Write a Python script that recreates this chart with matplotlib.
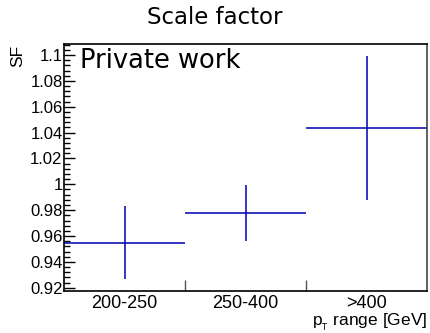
import matplotlib
matplotlib.use('Agg')
import matplotlib.pyplot as plt
from matplotlib.ticker import MultipleLocator

# scale factors per pT bin
bins = ['200-250', '250-400', '>400']
sf = [0.955, 0.9777, 1.0434]
sf_err = [0.028, 0.0214, 0.0559]

blue = '#0000b0'
tickfont = 'Liberation Sans'

fig = plt.figure(figsize=(4.3, 3.33), dpi=100)
ax = fig.add_axes([64/430, 1 - 290.5/333, (427-64)/430, (290.5-44)/333])

centres = [i + 0.5 for i in range(len(bins))]
ax.errorbar(centres, sf, xerr=0.5, yerr=sf_err, fmt='none',
            ecolor=blue, elinewidth=1.1, capsize=0)

ax.set_xlim(0, len(bins))
ax.set_ylim(0.9179, 1.1085)

# x axis: ticks at bin edges, labels at centres
ax.set_xticks(range(1, len(bins)))
ax.set_xticklabels([])
ax.set_xticks(centres, minor=True)
ax.set_xticklabels(bins, minor=True, fontsize=13, family=tickfont)
ax.tick_params(axis='x', which='major', direction='in', length=8, width=1, color='#555555')
ax.tick_params(axis='x', which='minor', length=0, pad=3)

ax.yaxis.set_minor_locator(MultipleLocator(0.004))
ax.set_yticks([0.92, 0.94, 0.96, 0.98, 1.0, 1.02, 1.04, 1.06, 1.08, 1.1])
ax.set_yticklabels(['0.92', '0.94', '0.96', '0.98', '1', '1.02', '1.04', '1.06', '1.08', '1.1'],
                   fontsize=12, family=tickfont)
ax.tick_params(axis='y', which='major', direction='in', length=8, width=1, pad=1)
ax.tick_params(axis='y', which='minor', direction='in', length=4, width=1)

for s in ax.spines.values():
    s.set_linewidth(1.2)
ax.spines['right'].set_color('#444444')

ax.set_ylabel('SF', fontsize=12.5, family=tickfont, ha='right')
ax.yaxis.set_label_coords(-0.108, 0.995)
ax.set_xlabel(r'p$_{_{\rm T}}$ range [GeV]', fontsize=12.5, family=tickfont, ha='right')
ax.xaxis.set_label_coords(1.0, -0.085)

fig.text(215/430, 1 - 18/333, 'Scale factor', ha='center', va='center', fontsize=16.5, family='DejaVu Sans')
ax.text(0.044, 0.985, 'Private work', transform=ax.transAxes, ha='left', va='top',
        fontsize=18.5, family='DejaVu Sans')

fig.savefig('out.png', dpi=100)
